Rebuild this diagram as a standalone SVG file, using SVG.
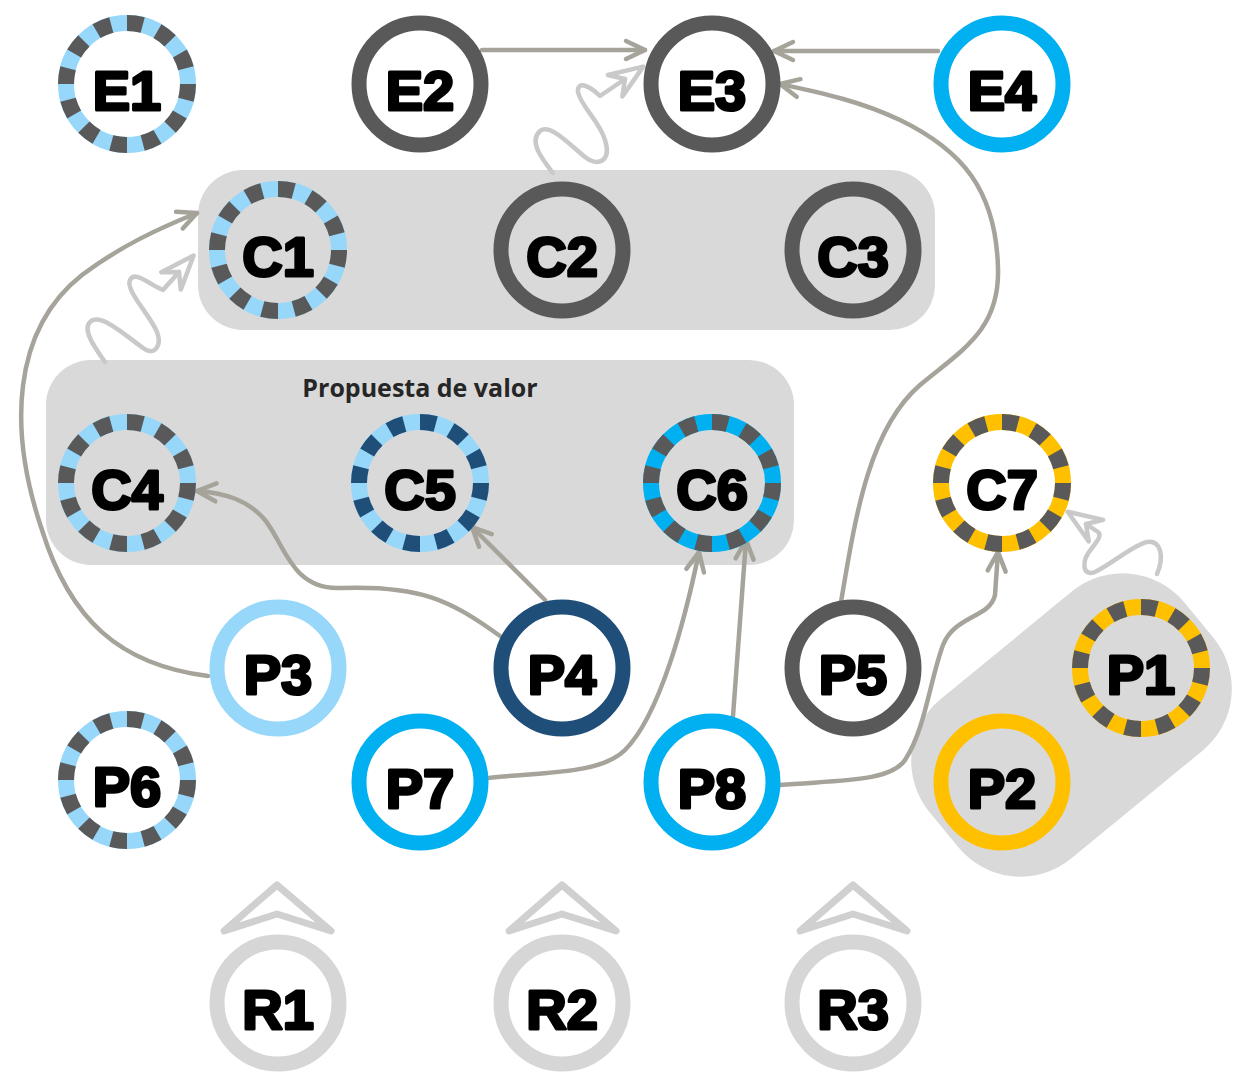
<svg xmlns="http://www.w3.org/2000/svg" width="1239" height="1080" viewBox="0 0 1239 1080">
<style>
.grp{fill:#d9d9d9}
.ring{fill:none;stroke-width:15}
.dbase{fill:none;stroke-width:16}
.dover{fill:none;stroke-width:16;stroke:#595959;stroke-dasharray:1 1}
.lbl{font-family:"Liberation Sans",Arial,sans-serif;font-weight:700;font-size:56px;text-anchor:middle;fill:#000;stroke:#000;stroke-width:3px;stroke-linejoin:round}
.con{fill:none;stroke:#a6a49a;stroke-width:4.5;stroke-linecap:round}
.wave{fill:none;stroke:#c9c9c9;stroke-width:4.5;stroke-linecap:round;stroke-linejoin:round}
.chev{fill:none;stroke:#d0d0d0;stroke-width:7;stroke-linejoin:round}
.glbl{font-family:"Open Sans","Noto Sans",sans-serif;font-weight:700;font-size:25px;fill:#262626;text-anchor:middle}
</style>
<defs>
<marker id="arr" markerUnits="userSpaceOnUse" markerWidth="30" markerHeight="30" refX="0" refY="0" orient="auto" overflow="visible">
<path d="M-19,-9 L0,0 L-19,9" fill="none" stroke="#a6a49a" stroke-width="4.5" stroke-linecap="round" stroke-linejoin="round"/>
</marker>
<marker id="warr" markerUnits="userSpaceOnUse" markerWidth="40" markerHeight="40" refX="-22" refY="0" orient="auto" overflow="visible">
<path d="M0,0 L-34,-13 L-22,0 L-34,13 Z" fill="none" stroke="#c9c9c9" stroke-width="4.5" stroke-linejoin="round"/>
</marker>
</defs>

<g id="groups">
<rect class="grp" x="198" y="170" width="737" height="160" rx="45"/>
<rect class="grp" x="46" y="360" width="748" height="205" rx="45"/>
<text class="glbl" x="420" y="397">Propuesta de valor</text>
<rect class="grp" x="-165" y="-103" width="330" height="206" rx="80" transform="translate(1071.5 725) rotate(-39.4)"/>
</g>

<g id="connectors">
<path class="con" d="M482,50 L645,50" marker-end="url(#arr)"/>
<path class="con" d="M938,51 L774,51" marker-end="url(#arr)"/>
<path class="con" d="M841,602 C855,520 868,430 920,385 C962,350 1000,330 998,268 C996,190 962,150 900,120 C860,101 822,93 780,84" marker-end="url(#arr)"/>
<path class="con" d="M208,676 C120,665 70,620 42,530 C8,430 12,330 82,275 C122,245 160,228 197,213" marker-end="url(#arr)"/>
<path class="con" d="M500,636 C450,600 420,585 340,588 C292,590 285,545 265,520 C248,500 225,493 197,491" marker-end="url(#arr)"/>
<path class="con" d="M545,600 L472,527" marker-end="url(#arr)"/>
<path class="con" d="M488,778 C540,772 600,775 625,750 C660,715 685,620 699,552" marker-end="url(#arr)"/>
<path class="con" d="M733,716 L746,540" marker-end="url(#arr)"/>
<path class="con" d="M780,785 C840,780 890,782 905,760 C925,730 930,680 943,645 C955,615 990,618 995,595 L998,552" marker-end="url(#arr)"/>
<path class="wave" d="M553,173 C543,160 528,142 540,131 C550,123 570,145 585,157 C597,167 612,162 605,140 C600,122 580,105 578,92 C577,80 590,86 600,96 L625,79" marker-end="url(#warr)"/>
<path class="wave" d="M105,362 C95,348 82,330 90,322 C100,312 125,335 143,348 C155,357 162,345 157,332 C150,315 125,290 130,280 C135,270 150,285 163,290 L179,272" marker-end="url(#warr)"/>
<path class="wave" d="M1157,574 C1165,555 1160,540 1147,542 C1135,544 1110,565 1095,572 C1083,577 1080,562 1092,548 C1098,540 1102,535 1098,532 L1086,524" marker-end="url(#warr)"/>
<polygon class="chev" points="224,931 277,885 331,931 277,914"/>
<polygon class="chev" points="509,931 562,885 616,931 562,914"/>
<polygon class="chev" points="800,931 853,885 907,931 853,914"/>
</g>

<g id="E1"><circle class="dbase" cx="127" cy="84" r="61" stroke="#97d7fa"/><circle class="dover" cx="127" cy="84" r="61" pathLength="24"/><text class="lbl" x="127" y="110">E1</text></g>
<g id="E2"><circle class="ring" cx="420" cy="84" r="61" stroke="#595959"/><text class="lbl" x="420" y="110">E2</text></g>
<g id="E3"><circle class="ring" cx="712" cy="84" r="61" stroke="#595959"/><text class="lbl" x="712" y="110">E3</text></g>
<g id="E4"><circle class="ring" cx="1002" cy="84" r="61" stroke="#00b0f0"/><text class="lbl" x="1002" y="110">E4</text></g>

<g id="C1"><circle class="dbase" cx="278" cy="250" r="61" stroke="#97d7fa"/><circle class="dover" cx="278" cy="250" r="61" pathLength="24"/><text class="lbl" x="278" y="276">C1</text></g>
<g id="C2"><circle class="ring" cx="562" cy="250" r="61" stroke="#595959"/><text class="lbl" x="562" y="276">C2</text></g>
<g id="C3"><circle class="ring" cx="853" cy="250" r="61" stroke="#595959"/><text class="lbl" x="853" y="276">C3</text></g>

<g id="C4"><circle class="dbase" cx="127" cy="483" r="61" stroke="#97d7fa"/><circle class="dover" cx="127" cy="483" r="61" pathLength="24"/><text class="lbl" x="127" y="509">C4</text></g>
<g id="C5"><circle class="dbase" cx="420" cy="483" r="61" stroke="#97d7fa"/><circle class="dover" cx="420" cy="483" r="61" pathLength="24" style="stroke:#1f4e79"/><text class="lbl" x="420" y="509">C5</text></g>
<g id="C6"><circle class="dbase" cx="712" cy="483" r="61" stroke="#00b0f0"/><circle class="dover" cx="712" cy="483" r="61" pathLength="24"/><text class="lbl" x="712" y="509">C6</text></g>
<g id="C7"><circle class="dbase" cx="1002" cy="483" r="61" stroke="#ffc000"/><circle class="dover" cx="1002" cy="483" r="61" pathLength="24"/><text class="lbl" x="1002" y="509">C7</text></g>

<g id="P3"><circle class="ring" cx="278" cy="668" r="61" stroke="#97d7fa"/><text class="lbl" x="278" y="694">P3</text></g>
<g id="P4"><circle class="ring" cx="562" cy="668" r="61" stroke="#1f4e79"/><text class="lbl" x="562" y="694">P4</text></g>
<g id="P5"><circle class="ring" cx="853" cy="668" r="61" stroke="#595959"/><text class="lbl" x="853" y="694">P5</text></g>
<g id="P1"><circle class="dbase" cx="1141" cy="668" r="61" stroke="#ffc000"/><circle class="dover" cx="1141" cy="668" r="61" pathLength="24"/><text class="lbl" x="1141" y="694">P1</text></g>

<g id="P6"><circle class="dbase" cx="127" cy="780" r="61" stroke="#97d7fa"/><circle class="dover" cx="127" cy="780" r="61" pathLength="24"/><text class="lbl" x="127" y="806">P6</text></g>
<g id="P7"><circle class="ring" cx="420" cy="782" r="61" stroke="#00b0f0"/><text class="lbl" x="420" y="808">P7</text></g>
<g id="P8"><circle class="ring" cx="712" cy="782" r="61" stroke="#00b0f0"/><text class="lbl" x="712" y="808">P8</text></g>
<g id="P2"><circle class="ring" cx="1002" cy="782" r="61" stroke="#ffc000"/><text class="lbl" x="1002" y="808">P2</text></g>

<g id="R1"><circle class="ring" cx="278" cy="1003" r="61" stroke="#d6d6d6"/><text class="lbl" x="278" y="1029">R1</text></g>
<g id="R2"><circle class="ring" cx="562" cy="1003" r="61" stroke="#d6d6d6"/><text class="lbl" x="562" y="1029">R2</text></g>
<g id="R3"><circle class="ring" cx="853" cy="1003" r="61" stroke="#d6d6d6"/><text class="lbl" x="853" y="1029">R3</text></g>
</svg>
